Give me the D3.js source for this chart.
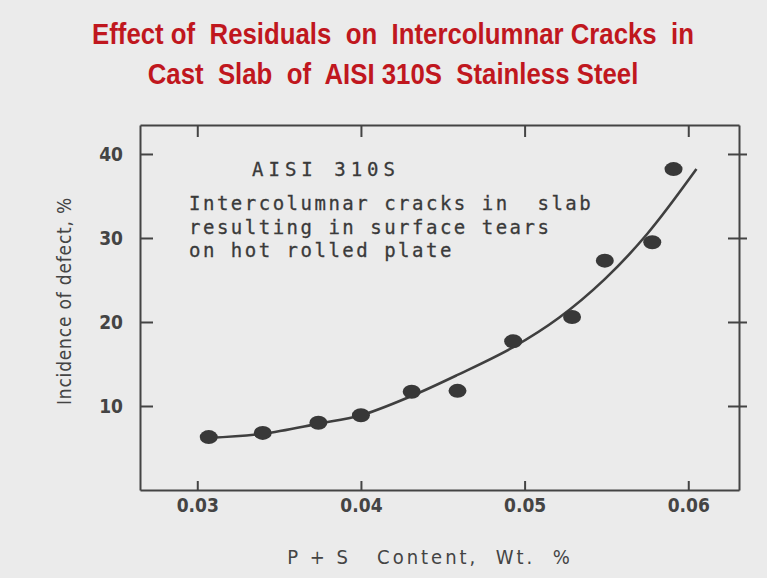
<!DOCTYPE html>
<html lang="en">
<head>
<meta charset="UTF-8">
<title>Effect of Residuals on Intercolumnar Cracks</title>
<script src="https://cdn.jsdelivr.net/npm/d3@7"></script>
<style>
  body { margin: 0; background: #ebebeb; }
  .title {
    font-family: "Liberation Sans Narrow", "Arial Narrow", "Liberation Sans", sans-serif;
    font-weight: bold;
    font-size: 30px;
    fill: #c0171e;
  }
  .axis path, .axis line { stroke: #444; stroke-width: 2; }
  .axis text, .label {
    font-family: "DejaVu Sans Condensed", "Liberation Sans Narrow", "Liberation Sans", sans-serif;
    fill: #444;
  }
  .axis text { font-size: 19px; font-weight: bold; }
  .label { font-size: 19px; }
  .note {
    font-family: "DejaVu Sans Mono", monospace;
    font-size: 19px;
    letter-spacing: 2.5px;
    fill: #3a3a3a;
    stroke: #3a3a3a;
    stroke-width: 0.3;
  }
</style>
</head>
<body>
<script>
// tick values
const xTicks = [0.03, 0.04, 0.05, 0.06];
const yTicks = [10, 20, 30, 40];

// measured points (P+S wt.%, incidence %)
const dotX = [0.0307, 0.0340, 0.0374, 0.0400, 0.0431, 0.0459, 0.0493, 0.0529, 0.0549, 0.0578, 0.0591];
const dotY = [6.3, 6.8, 8.0, 8.9, 11.7, 11.8, 17.7, 20.6, 27.3, 29.5, 38.2];

// fitted curve
const fitX = [0.0307, 0.0340, 0.0374, 0.0400, 0.0431, 0.0459, 0.0493, 0.0521, 0.0549, 0.0575, 0.0605];
const fitY = [6.2, 6.7, 7.9, 8.9, 11.2, 13.7, 17.0, 20.5, 25.1, 30.5, 38.2];

const titleLines = ["Effect of  Residuals  on  Intercolumnar Cracks  in",
                    "Cast  Slab  of  AISI 310S  Stainless Steel"];
const noteLines = ["Intercolumnar cracks in  slab",
                   "resulting in surface tears",
                   "on hot rolled plate"];

const width = 767, height = 578;
const margin = {top: 125, right: 28, bottom: 88, left: 140};

const svg = d3.select("body").append("svg")
  .attr("width", width)
  .attr("height", height);

svg.append("rect")
  .attr("width", width)
  .attr("height", height)
  .attr("fill", "#ebebeb");

const x = d3.scaleLinear().domain([0.0265, 0.0631]).range([margin.left, width - margin.right]);
const y = d3.scaleLinear().domain([0, 43.45]).range([height - margin.bottom, margin.top]);

// title (squeezed, no narrow face installed)
svg.selectAll(".title")
  .data(titleLines)
  .enter().append("text")
  .attr("class", "title")
  .attr("transform", (d, i) => `translate(393,${44 + i * 40}) scale(0.86,1)`)
  .attr("text-anchor", "middle")
  .style("white-space", "pre")
  .text(d => d);

// frame + ticks
svg.append("g")
  .attr("class", "axis")
  .attr("transform", `translate(${margin.left},0)`)
  .call(d3.axisLeft(y).tickValues(yTicks).tickSizeInner(-13).tickSizeOuter(0)
    .tickPadding(17).tickFormat(d3.format("d")));

svg.append("g")
  .attr("class", "axis")
  .attr("transform", `translate(0,${height - margin.bottom})`)
  .call(d3.axisBottom(x).tickValues(xTicks).tickSizeInner(-9).tickSizeOuter(0)
    .tickPadding(9).tickFormat(d3.format(".2f")));

svg.append("g")
  .attr("class", "axis")
  .attr("transform", `translate(0,${margin.top})`)
  .call(d3.axisTop(x).tickValues(xTicks).tickSizeInner(-12).tickSizeOuter(0).tickFormat(""));

const right = svg.append("g")
  .attr("class", "axis")
  .attr("transform", `translate(${width - margin.right},0)`)
  .call(d3.axisRight(y).tickValues(yTicks).tickSizeInner(8).tickSizeOuter(0).tickFormat(""));
// right ticks cross the frame
right.selectAll(".tick").append("line").attr("x2", -11);

// fitted curve
const line = d3.line()
  .x((d, i) => x(fitX[i]))
  .y(d => y(d))
  .curve(d3.curveCatmullRom.alpha(0.5));

svg.append("path")
  .attr("d", line(fitY))
  .attr("fill", "none")
  .attr("stroke", "#3f3f3f")
  .attr("stroke-width", 2.6);

// points
svg.selectAll(".dot")
  .data(dotY)
  .enter().append("ellipse")
  .attr("class", "dot")
  .attr("cx", (d, i) => x(dotX[i]))
  .attr("cy", d => y(d))
  .attr("rx", 9)
  .attr("ry", 7)
  .attr("fill", "#383838");

// annotation
svg.append("text")
  .attr("class", "note")
  .attr("x", 252)
  .attr("y", 176)
  .style("letter-spacing", "5px")
  .text("AISI 310S");

svg.selectAll(".noteline")
  .data(noteLines)
  .enter().append("text")
  .attr("class", "note noteline")
  .attr("x", 189)
  .attr("y", (d, i) => 210 + i * 23.5)
  .style("white-space", "pre")
  .text(d => d);

// axis titles
svg.append("text")
  .attr("class", "label")
  .attr("transform", "translate(71,301) rotate(-90)")
  .attr("text-anchor", "middle")
  .style("letter-spacing", "0.8px")
  .text("Incidence of defect, %");

svg.append("text")
  .attr("class", "label")
  .attr("x", 430)
  .attr("y", 564)
  .attr("text-anchor", "middle")
  .style("font-size", "20px")
  .style("letter-spacing", "3px")
  .style("white-space", "pre")
  .text("P + S   Content,  Wt.  %");
</script>
</body>
</html>
